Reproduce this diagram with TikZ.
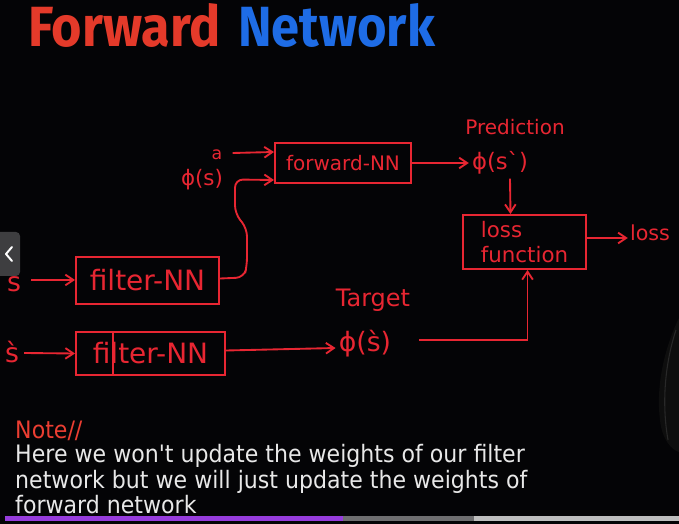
\documentclass[tikz,border=0pt]{standalone}
\usepackage{fontspec}
\setmainfont{DejaVu Sans}
\newfontfamily\titlefont{Fira Sans}
\newfontfamily\notefont{DejaVu Sans}
\usetikzlibrary{arrows.meta,calc}
\newdimen\upx \upx=0.75pt
\newcommand\setfs[1]{\fontsize{#1}{1.2\dimexpr#1pt\relax}\selectfont}
\definecolor{bg}{RGB}{4,4,6}
\definecolor{hand}{RGB}{232,38,50}
\definecolor{tred}{RGB}{228,58,42}
\definecolor{tblue}{RGB}{30,108,230}
\definecolor{notered}{RGB}{236,62,50}
\definecolor{notegray}{RGB}{232,232,232}
\definecolor{purplebar}{RGB}{150,60,220}
\definecolor{barA}{RGB}{110,110,112}
\definecolor{barB}{RGB}{190,190,190}
\definecolor{tabgray}{RGB}{62,62,64}
\definecolor{figgray}{RGB}{14,14,14}
\definecolor{figline}{RGB}{40,40,40}
\begin{document}
\begin{tikzpicture}[x=0.75pt,y=-0.75pt,
  hand/.style={text=hand, inner sep=0pt},
  nnbox/.style={draw=hand, line width=1.5pt, inner sep=0pt, text=hand},
  arr/.style={draw=hand, line width=1.4pt, -{Straight Barb[length=6pt,width=8pt]}},
  link/.style={draw=hand, line width=1.4pt},
  title/.style={anchor=base west, inner sep=0pt, font=\titlefont\bfseries\setfs{42.5}},
  note/.style={anchor=base west, xscale=0.92, inner sep=0pt, font=\notefont\setfs{18}}]
\fill[bg] (0,0) rectangle (679,524);
\useasboundingbox (0,0) rectangle (679,524);
% faint figure at right
\fill[figgray] (679,318) .. controls (668,340) and (655,380) .. (660,420) .. controls (662,440) and (672,450) .. (679,452) -- cycle;
\draw[figline, line width=0.8pt] (676,330) .. controls (666,360) and (661,400) .. (668,440);
% title
\node[title, xscale=0.92, text=tred] (t1) at (28,47) {Forward};
\node[title, xscale=0.893, text=tblue] (t2) at (238,47) {Network};
% left tab
\fill[tabgray, rounded corners=3pt] (-6,232) rectangle (20,276);
\draw[white, line width=1.5pt, line cap=round, line join=round] (12,247) -- (6,254) -- (12,261);
% boxes
\node[nnbox, minimum width=136\upx, minimum height=40\upx, font=\setfs{15}] (fwd) at (343,163) {forward-NN};
\node[nnbox, minimum width=143\upx, minimum height=47\upx, font=\setfs{21}] (filt1) at (147.5,280.5) {filter-NN};
\node[nnbox, minimum width=149\upx, minimum height=43\upx, font=\setfs{21}] (filt2) at (150.5,353.5) {filter-NN};
\draw[link] (filt2.north west) ++(38,0) -- ++(0,43);
\node[nnbox, minimum width=123\upx, minimum height=54\upx, align=left, font=\setfs{16}] (lossbox) at (524.5,242) {loss\\function};
% labels
\node[hand, font=\setfs{13}] (a) at (217,155) {a};
\node[hand, font=\setfs{16}] (phis) at (202,180) {ϕ(s)};
\node[hand, font=\setfs{17}] (pred) at (500,163) {ϕ(s\textasciigrave)};
\node[hand, font=\setfs{15}] (predlbl) at (515,127) {Prediction};
\node[hand, font=\setfs{15.5}] (lossout) at (650,233) {loss};
\node[hand, font=\setfs{18}] (tlbl) at (373,300) {Target};
\node[hand, font=\setfs{20}] (tphi) at (365,344) {ϕ(\`s)};
\node[hand, font=\setfs{20}] (sin) at (14,284) {s};
\node[hand, font=\setfs{20}] (s2in) at (12,352) {\`s};
% connectors
\draw[arr] ($(a.east)+(10,-2)$) -- ($(fwd.north west)+(0,10)$);
\draw[arr, rounded corners=6pt] ($(filt1.east)+(0,-2)$) -- ++(24,-1) -- ++(3,-12) -- ++(0,-37) -- ++(-12,-15) -- ++(0,-34) -- ($(fwd.south west)+(0,-4)$);
\draw[arr] (fwd.east) -- ($(pred.west)+(-3,0)$);
\draw[arr] ($(pred.south)+(10,4)$) -- ($(lossbox.north)+(-14,0)$);
\draw[arr] ($(lossbox.east)+(0,-4)$) -- ($(lossout.west)+(-2,5)$);
\draw[arr] ($(sin.east)+(10,-4)$) -- ($(filt1.west)+(0,-0.5)$);
\draw[arr] ($(s2in.east)+(5,1)$) -- (filt2.west);
\draw[arr] ($(filt2.east)+(0,-3)$) -- ($(tphi.west)+(-3,4)$);
\draw[arr] ($(tphi.east)+(28,-4)$) -| ($(lossbox.south)+(3,0)$);
% note
\node[note, text=notered] (notehead) at (15,438) {Note//};
\node[note, text=notegray] (line1) at (15,462) {Here we won\textquotesingle t update the weights of our filter};
\node[note, text=notegray] (line2) at (15,488) {network but we will just update the weights of};
\node[note, text=notegray] (line3) at (15,513) {forward network};
% progress bar
\fill[purplebar] (5,516) rectangle (343,521);
\fill[barA] (343,516) rectangle (474,521);
\fill[barB] (474,516) rectangle (679,521);
\end{tikzpicture}
\end{document}
